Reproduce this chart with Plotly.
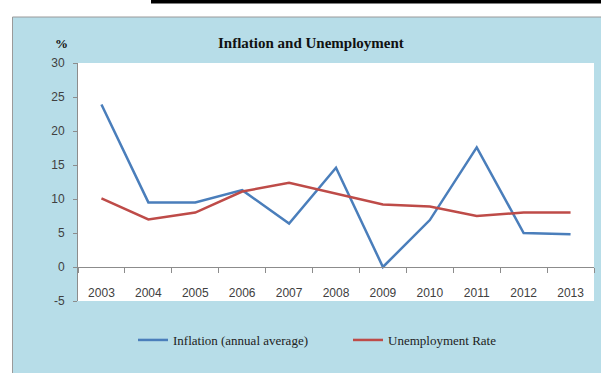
import plotly.graph_objects as go

years = ["2003", "2004", "2005", "2006", "2007", "2008", "2009", "2010", "2011", "2012", "2013"]
inflation = [23.9, 9.5, 9.5, 11.3, 6.4, 14.6, 0.0, 6.9, 17.6, 5.0, 4.8]
unemployment = [10.1, 7.0, 8.0, 11.1, 12.4, 10.8, 9.2, 8.9, 7.5, 8.0, 8.0]
y_ticks = [-5, 0, 5, 10, 15, 20, 25, 30]
y_tick_text = [str(v) for v in y_ticks]

W, H = 601, 373
L, R, T, B = 78, 7, 63, 72
pw, ph = W - L - R, H - T - B

def px_x(x):
    return (x - L) / pw

def px_y(y):
    return (H - B - y) / ph

BG = "#B7DDE8"
TICKFONT = dict(family="Liberation Sans", size=12, color="#404040")
fig = go.Figure()
fig.add_trace(go.Scatter(x=years, y=inflation, mode="lines", name="Inflation (annual average)",
                         line=dict(color="#4A7EBB", width=2.5)))
fig.add_trace(go.Scatter(x=years, y=unemployment, mode="lines", name="Unemployment Rate",
                         line=dict(color="#BE4B48", width=2.5)))

fig.update_layout(
    width=W, height=H,
    margin=dict(l=L, r=R, t=T, b=B, pad=0),
    paper_bgcolor=BG, plot_bgcolor="white",
    showlegend=True,
    legend=dict(orientation="h", x=px_x(348), xanchor="center", y=px_y(340), yanchor="middle",
                font=dict(family="Liberation Serif", size=13, color="#222222"),
                bgcolor="rgba(0,0,0,0)", entrywidth=170, entrywidthmode="pixels"),
    xaxis=dict(type="category", range=[-0.5, 10.5], anchor="free", position=5 / 35,
               showline=True, linecolor="#8C8C8C", linewidth=1,
               ticks="outside", ticklen=5, tickcolor="#8C8C8C", tickson="boundaries",
               showgrid=False, ticklabelstandoff=15, tickfont=TICKFONT),
    yaxis=dict(range=[-5, 30], tickvals=y_ticks, ticktext=y_tick_text, showline=True,
               linecolor="#8C8C8C", linewidth=1,
               ticks="outside", ticklen=4, tickcolor="#8C8C8C", showgrid=False, zeroline=False,
               ticklabelstandoff=6, tickfont=TICKFONT),
    shapes=[
        dict(type="rect", xref="paper", yref="paper", x0=px_x(0), x1=px_x(W), y0=px_y(0), y1=px_y(17),
             fillcolor="white", line=dict(width=0), layer="above"),
        dict(type="rect", xref="paper", yref="paper", x0=px_x(0), x1=px_x(12.5), y0=px_y(0), y1=px_y(H),
             fillcolor="white", line=dict(width=0), layer="above"),
        dict(type="line", xref="paper", yref="paper", x0=px_x(12.5), x1=px_x(W), y0=px_y(17), y1=px_y(17),
             line=dict(color="#9A9A9A", width=1), layer="above"),
        dict(type="line", xref="paper", yref="paper", x0=px_x(12.5), x1=px_x(12.5), y0=px_y(17), y1=px_y(H),
             line=dict(color="#9A9A9A", width=1), layer="above"),
        dict(type="rect", xref="paper", yref="paper", x0=px_x(151), x1=px_x(W), y0=px_y(0), y1=px_y(3.5),
             fillcolor="black", line=dict(width=0), layer="above"),
    ],
    annotations=[
        dict(text="<b>Inflation and Unemployment</b>", xref="paper", yref="paper",
             x=px_x(311), y=px_y(43), xanchor="center", yanchor="middle", showarrow=False,
             font=dict(family="Liberation Serif", size=15, color="#111111")),
        dict(text="<b>%</b>", xref="paper", yref="paper",
             x=px_x(61), y=px_y(43), xanchor="center", yanchor="middle", showarrow=False,
             font=dict(family="Liberation Serif", size=13, color="#111111")),
    ],
)

fig.write_html("out.html")
